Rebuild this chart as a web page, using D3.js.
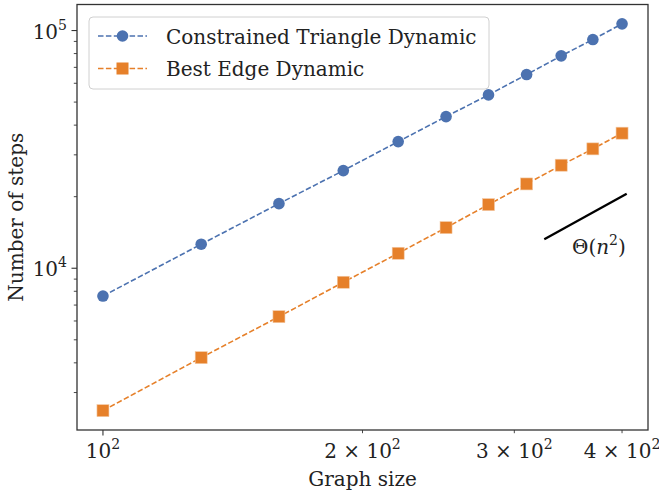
<!DOCTYPE html>
<html>
<head>
<meta charset="utf-8">
<script src="https://cdn.jsdelivr.net/npm/d3@7"></script>
<style>
  body { margin: 0; background: #fff; }
  svg text { font-family: "DejaVu Serif", "Liberation Serif", serif; fill: #222; }
</style>
</head>
<body>
<svg width="659" height="494"></svg>
<script>
// graph sizes
const sizes = [100, 130, 160, 190, 220, 250, 280, 310, 340, 370, 400];
// steps
const triangleSteps = [7640, 12620, 18700, 25750, 34100, 43450, 53600, 65300, 78250, 91650, 106700];
const edgeSteps = [2517, 4206, 6255, 8730, 11560, 14820, 18520, 22630, 27130, 31780, 37000];
// reference slope segment
const thetaX = [325, 405];
const thetaY = [13250, 20580];

const seriesNames = ["Constrained Triangle Dynamic", "Best Edge Dynamic"];
const colors = ["#4c72b0", "#e6802a"];

const svg = d3.select("svg");
const margin = { left: 77, right: 11, top: 4.5, bottom: 64 };
const width = 659, height = 494;
const fs = "20px", fsSup = "14px";

// matplotlib-like 5% margins in log space
const lx = d3.extent(sizes).map(Math.log10);
const padX = (lx[1] - lx[0]) * 0.05;
const allY = triangleSteps.concat(edgeSteps).map(Math.log10);
const ly = d3.extent(allY);
const padY = (ly[1] - ly[0]) * 0.05;

const x = d3.scaleLog()
  .domain([10 ** (lx[0] - padX), 10 ** (lx[1] + padX)])
  .range([margin.left, width - margin.right]);
const y = d3.scaleLog()
  .domain([10 ** (ly[0] - padY), 10 ** (ly[1] + padY)])
  .range([height - margin.bottom, margin.top]);

const x0 = margin.left, x1 = width - margin.right;
const y0 = height - margin.bottom, y1 = margin.top;

// ticks
const tickColor = "#333";
const yMajor = [1e4, 1e5];
const yMinor = [];
[1e3, 1e4].forEach(b => { for (let k = 2; k <= 9; k++) yMinor.push(b * k); });
yMinor.filter(v => v >= y.domain()[0] && v <= y.domain()[1]).forEach(v => {
  svg.append("line").attr("x1", x0).attr("x2", x0 - 3.2).attr("y1", y(v)).attr("y2", y(v))
    .attr("stroke", tickColor).attr("stroke-width", 0.9);
});
yMajor.forEach(v => {
  svg.append("line").attr("x1", x0).attr("x2", x0 - 5.5).attr("y1", y(v)).attr("y2", y(v))
    .attr("stroke", tickColor).attr("stroke-width", 1.1);
  const t = svg.append("text").attr("x", x0 - 10).attr("y", y(v) + 8)
    .attr("text-anchor", "end").style("font-size", fs);
  t.append("tspan").text("10");
  t.append("tspan").text(Math.log10(v)).attr("dy", -9).style("font-size", fsSup);
});

const xTicks = [
  { v: 100, pre: "", major: true },
  { v: 200, pre: "2 \u00d7 ", major: false },
  { v: 300, pre: "3 \u00d7 ", major: false },
  { v: 400, pre: "4 \u00d7 ", major: false }
];
xTicks.forEach(d => {
  svg.append("line").attr("x1", x(d.v)).attr("x2", x(d.v)).attr("y1", y0).attr("y2", y0 + (d.major ? 5.5 : 3.2))
    .attr("stroke", tickColor).attr("stroke-width", d.major ? 1.1 : 0.9);
  const t = svg.append("text").attr("x", x(d.v)).attr("y", y0 + 28)
    .attr("text-anchor", "middle").style("font-size", fs);
  t.append("tspan").text(d.pre + "10");
  t.append("tspan").text("2").attr("dy", -9).style("font-size", fsSup);
});

// axis labels
svg.append("text").attr("x", (x0 + x1) / 2).attr("y", 486).attr("text-anchor", "middle")
  .style("font-size", fs).text("Graph size");
svg.append("text").attr("transform", `translate(23,${(y0 + y1) / 2}) rotate(-90)`)
  .attr("text-anchor", "middle").style("font-size", fs).text("Number of steps");

// series
const series = [triangleSteps, edgeSteps];
const line = d3.line().x(d => x(d[0])).y(d => y(d[1]));
series.forEach((vals, i) => {
  const pts = sizes.map((s, j) => [s, vals[j]]);
  svg.append("path").attr("d", line(pts)).attr("fill", "none")
    .attr("stroke", colors[i]).attr("stroke-width", 1.6).attr("stroke-dasharray", "5.5,2.4");
  if (i === 0) {
    svg.selectAll(null).data(pts).enter().append("circle")
      .attr("cx", d => x(d[0])).attr("cy", d => y(d[1])).attr("r", 5.8)
      .attr("fill", colors[i]);
  } else {
    svg.selectAll(null).data(pts).enter().append("rect")
      .attr("x", d => x(d[0]) - 6).attr("y", d => y(d[1]) - 6).attr("width", 12).attr("height", 12)
      .attr("fill", colors[i]).attr("stroke", "#f3c9a4").attr("stroke-width", 0.6);
  }
});

// theta segment
svg.append("line")
  .attr("x1", x(thetaX[0])).attr("y1", y(thetaY[0]))
  .attr("x2", x(thetaX[1])).attr("y2", y(thetaY[1]))
  .attr("stroke", "#000").attr("stroke-width", 2.3);
const th = svg.append("text").attr("x", 572).attr("y", 254).style("font-size", fs);
th.append("tspan").text("\u0398(");
th.append("tspan").text("n").style("font-style", "italic");
th.append("tspan").text("2").attr("dy", -9).style("font-size", fsSup);
th.append("tspan").text(")").attr("dy", 9);

// frame
svg.append("rect").attr("x", x0).attr("y", y1).attr("width", x1 - x0).attr("height", y0 - y1)
  .attr("fill", "none").attr("stroke", "#333").attr("stroke-width", 1.3);

// legend
const lg = svg.append("g");
lg.append("rect").attr("x", 89).attr("y", 17).attr("width", 400).attr("height", 72).attr("rx", 4)
  .attr("fill", "#fff").attr("fill-opacity", 0.8).attr("stroke", "#d0d0d0").attr("stroke-width", 1);
seriesNames.forEach((name, i) => {
  const cy = 36 + i * 32.5;
  lg.append("line").attr("x1", 98).attr("x2", 147).attr("y1", cy).attr("y2", cy)
    .attr("stroke", colors[i]).attr("stroke-width", 1.6).attr("stroke-dasharray", "5.5,2.4");
  if (i === 0) lg.append("circle").attr("cx", 122.5).attr("cy", cy).attr("r", 5.8).attr("fill", colors[i]);
  else lg.append("rect").attr("x", 116.5).attr("y", cy - 6).attr("width", 12).attr("height", 12).attr("fill", colors[i]);
  lg.append("text").attr("x", 166).attr("y", cy + 7.5).style("font-size", fs).text(name);
});
</script>
</body>
</html>
